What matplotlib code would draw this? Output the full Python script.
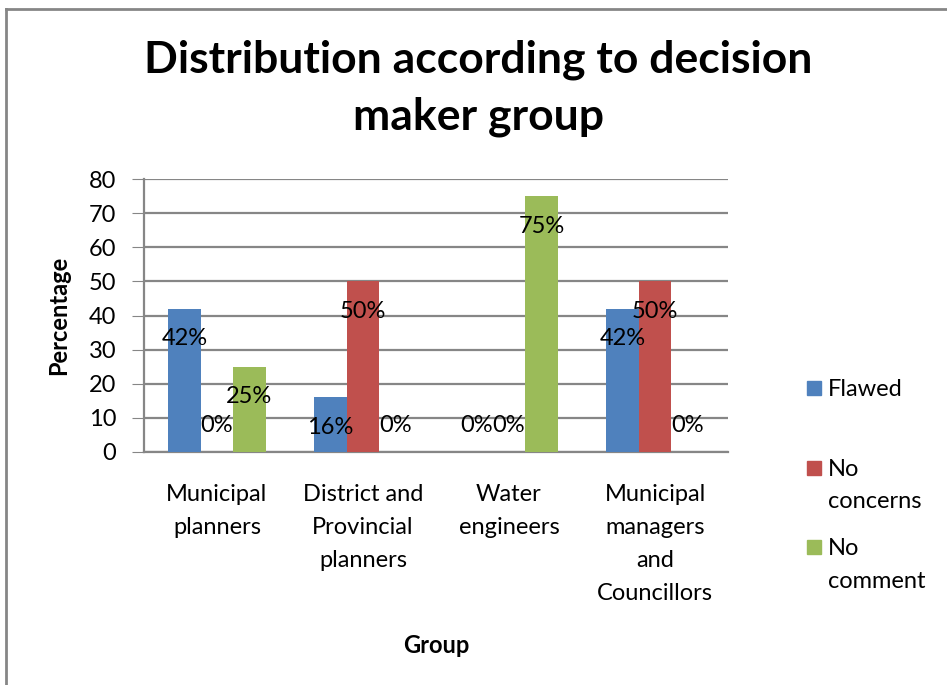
import numpy as np
import matplotlib.pyplot as plt
from matplotlib.lines import Line2D
from matplotlib.patches import Rectangle

plt.rcParams['font.family'] = ['Lato', 'DejaVu Sans']

groups = ['Municipal\nplanners', 'District and\nProvincial\nplanners',
          'Water\nengineers', 'Municipal\nmanagers\nand\nCouncillors']
series = ['Flawed', 'No\nconcerns', 'No\ncomment']
flawed = [42, 16, 0, 42]
no_concerns = [0, 50, 0, 50]
no_comment = [25, 0, 75, 0]
colors = ['#4F81BD', '#C0504D', '#9BBB59']

W, H = 947, 685
fig = plt.figure(figsize=(W / 100, H / 100), dpi=100)
ax = fig.add_axes([144 / W, 1 - 452 / H, (728 - 144) / W, (452 - 179) / H])

x = np.arange(len(groups))
bw = 0.2225
for i, (vals, c) in enumerate(zip([flawed, no_concerns, no_comment], colors)):
    pos = x + (i - 1) * bw
    ax.bar(pos, vals, bw, color=c, zorder=3)
    for p, v in zip(pos, vals):
        off = -30 if v > 0 else 27
        ax.annotate(f'{v}%', (p, v), xytext=(0, off), textcoords='offset pixels',
                    ha='center', va='center', fontsize=17, zorder=4)

ax.set_xlim(-0.5, len(groups) - 0.5)
ax.set_ylim(0, 80)
ax.set_yticks(range(0, 81, 10))
ax.set_xticks(x)
ax.set_xticklabels(groups, fontsize=17, linespacing=1.7)
ax.tick_params(axis='y', labelsize=17, length=9, color='#868686', pad=11)
ax.tick_params(axis='x', length=0, pad=23)
ax.grid(axis='y', color='#868686', linewidth=1.6, zorder=0)
for s in ['top', 'right']:
    ax.spines[s].set_visible(False)
for s in ['left', 'bottom']:
    ax.spines[s].set_color('#868686')
    ax.spines[s].set_linewidth(1.6)

ax.set_ylabel('Percentage', fontsize=17, fontweight='bold', labelpad=13)
ax.set_xlabel('Group', fontsize=17, fontweight='bold', labelpad=22)

fig.text(478 / W, 1 - 88 / H, 'Distribution according to decision\nmaker group',
         ha='center', va='center', fontsize=32, fontweight='bold', linespacing=1.5)

# legend, Excel style: square next to the first line of each entry
for i, (lab, c) in enumerate(zip(series, colors)):
    yc = 388 + i * 79.5
    fig.add_artist(Rectangle((807 / W, 1 - (yc + 7) / H), 14 / W, 14 / H,
                             transform=fig.transFigure, color=c))
    fig.text(828 / W, 1 - (yc - 9) / H, lab, ha='left', va='top',
             fontsize=17, linespacing=1.7)

fig.add_artist(Line2D([6 / W, 1], [1 - 9 / H, 1 - 9 / H], color='#868686', linewidth=2))
fig.add_artist(Line2D([6 / W, 6 / W], [0, 1 - 9 / H], color='#868686', linewidth=2))

fig.savefig('out.png', dpi=100)
